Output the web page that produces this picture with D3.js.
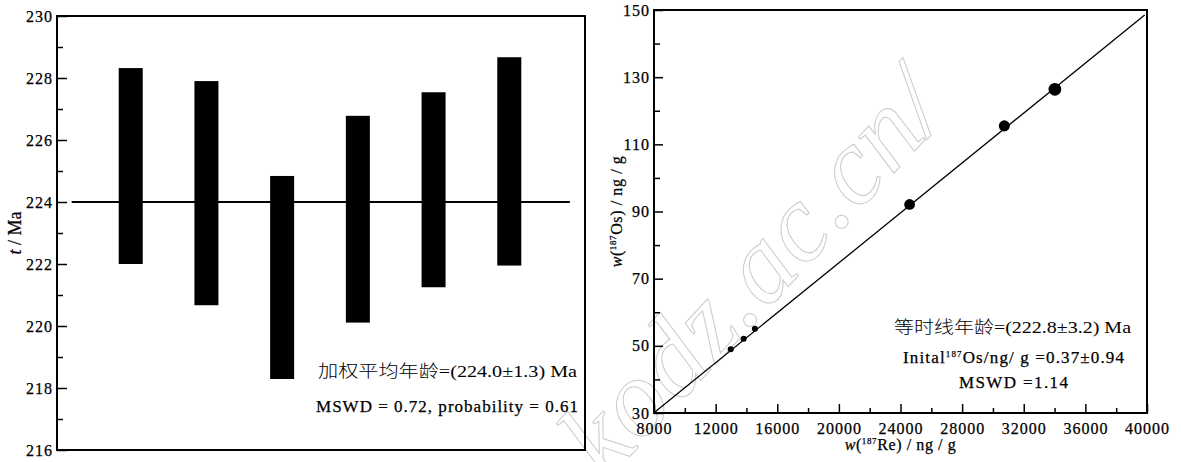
<html>
  <head>
    <meta charset="UTF-8" />
    <script src="https://cdnjs.cloudflare.com/ajax/libs/d3/7.8.5/d3.min.js"></script>
    <style>
      body { margin: 0; background: #fff; }
      text { font-family: "Liberation Serif", "Times New Roman", Times, Tinos, "DejaVu Serif", "Noto Sans CJK SC", serif; fill: #000; stroke: #000; stroke-width: 0.25px; }
      text.wm { fill: none; stroke: #cbcbcb; stroke-width: 1px; }
      text.cjk { stroke-width: 0; font-weight: 300; }
    </style>
  </head>
  <body>
    <svg id="chart" width="1181" height="462"></svg>
    <script>
      var FONT = '"Liberation Serif", "Times New Roman", Times, Tinos, "DejaVu Serif", "Noto Sans CJK SC", serif';

      // left panel: Re-Os model ages (bars = age ± 2s)
      var sampleNo = [1, 2, 3, 4, 5, 6];
      var ageLow = [222.0, 220.67, 218.29, 220.11, 221.25, 221.95];
      var ageHigh = [228.32, 227.9, 224.84, 226.78, 227.54, 228.67];
      var meanAge = 224.0;
      var ageMajor = [216, 218, 220, 222, 224, 226, 228, 230];
      var ageMinor = [217, 219, 221, 223, 225, 227, 229];

      // right panel: isochron
      var re187 = [12980, 13820, 14550, 24590, 30740, 34020];
      var os187 = [49.0, 52.1, 55.1, 92.1, 115.5, 126.4];
      var osErr = [0.9, 0.9, 0.9, 1.6, 1.65, 1.9];
      var fitRe = [8000, 39850];
      var fitOs = [30.1, 148.5];
      var reMajor = [8000, 12000, 16000, 20000, 24000, 28000, 32000, 36000, 40000];
      var reMinor = [10000, 14000, 18000, 22000, 26000, 30000, 34000, 38000];
      var osMajor = [30, 50, 70, 90, 110, 130, 150];
      var osMinor = [40, 60, 80, 100, 120, 140];

      var svg = d3.select("#chart");
      svg.append("rect").attr("width", 1181).attr("height", 462).attr("fill", "#fff");

      // watermark (under everything)
      svg.append("text")
        .attr("class", "wm")
        .attr("transform", "translate(606,482) rotate(-47)")
        .style("font-size", "110px")
        .style("font-style", "italic")
        .style("letter-spacing", "1px")
        .text("kodz.ac.cn/");

      // ---------- left panel ----------
      var L = { x0: 57, x1: 585, y0: 16, y1: 450 };
      var xL = d3.scaleLinear().domain([0, 7]).range([55, 585]);
      var yL = d3.scaleLinear().domain([216, 230]).range([L.y1, L.y0]);

      var gL = svg.append("g");

      gL.selectAll(".bar")
        .data(sampleNo)
        .enter()
        .append("rect")
        .attr("class", "bar")
        .attr("x", (d) => xL(d) - 12)
        .attr("width", 24)
        .attr("y", (d, i) => yL(ageHigh[i]))
        .attr("height", (d, i) => yL(ageLow[i]) - yL(ageHigh[i]))
        .attr("fill", "#000");

      gL.append("line")
        .attr("x1", xL(0.22))
        .attr("x2", xL(6.8))
        .attr("y1", yL(meanAge))
        .attr("y2", yL(meanAge))
        .attr("stroke", "#000")
        .attr("stroke-width", 2);

      var axL = gL.append("g").attr("transform", `translate(${L.x0},0)`)
        .call(d3.axisLeft(yL).tickValues(ageMajor).tickSize(-10).tickPadding(4).tickFormat(d3.format("d")));
      var axLm = gL.append("g").attr("transform", `translate(${L.x0},0)`)
        .call(d3.axisLeft(yL).tickValues(ageMinor).tickSize(-6).tickFormat(""));
      [axL, axLm].forEach((a) => {
        a.select(".domain").remove();
        a.selectAll("line").attr("stroke", "#000").attr("stroke-width", 1.5);
      });
      axL.selectAll("text").style("font-size", "16px").style("font-family", FONT).style("letter-spacing", "1px");

      gL.append("rect")
        .attr("x", L.x0).attr("y", L.y0)
        .attr("width", L.x1 - L.x0).attr("height", L.y1 - L.y0)
        .attr("fill", "none").attr("stroke", "#000").attr("stroke-width", 2);

      var tLab = gL.append("text")
        .attr("transform", `translate(21,${(L.y0 + L.y1) / 2}) rotate(-90)`)
        .attr("text-anchor", "middle")
        .style("font-size", "18px");
      tLab.append("tspan").style("font-style", "italic").text("t");
      tLab.append("tspan").text(" / Ma");

      gL.append("text").attr("x", 318).attr("y", 377)
        .attr("class", "cjk")
        .attr("textLength", 259).attr("lengthAdjust", "spacingAndGlyphs")
        .style("font-size", "17px")
        .text("加权平均年龄=(224.0±1.3) Ma");
      gL.append("text").attr("x", 316).attr("y", 411.5)
        .attr("textLength", 262).attr("lengthAdjust", "spacing")
        .style("font-size", "17px")
        .text("MSWD = 0.72, probability = 0.61");

      // ---------- right panel ----------
      var R = { x0: 654, x1: 1147, y0: 10, y1: 413 };
      var xR = d3.scaleLinear().domain([8000, 40000]).range([R.x0, R.x1]);
      var yR = d3.scaleLinear().domain([30, 150]).range([R.y1, R.y0]);

      var gR = svg.append("g");

      gR.append("line")
        .attr("x1", xR(fitRe[0])).attr("y1", yR(fitOs[0]))
        .attr("x2", xR(fitRe[1])).attr("y2", yR(fitOs[1]))
        .attr("stroke", "#000").attr("stroke-width", 1.3);

      gR.selectAll(".dot")
        .data(re187)
        .enter()
        .append("circle")
        .attr("class", "dot")
        .attr("cx", (d) => xR(d))
        .attr("cy", (d, i) => yR(os187[i]))
        .attr("r", (d, i) => yR(0) - yR(osErr[i]))
        .attr("fill", "#000");

      var axR = gR.append("g").attr("transform", `translate(${R.x0},0)`)
        .call(d3.axisLeft(yR).tickValues(osMajor).tickSize(-9).tickPadding(4).tickFormat(d3.format("d")));
      var axRm = gR.append("g").attr("transform", `translate(${R.x0},0)`)
        .call(d3.axisLeft(yR).tickValues(osMinor).tickSize(-6).tickFormat(""));
      var axB = gR.append("g").attr("transform", `translate(0,${R.y1})`)
        .call(d3.axisBottom(xR).tickValues(reMajor).tickSize(-9).tickPadding(10).tickFormat(d3.format("d")));
      var axBm = gR.append("g").attr("transform", `translate(0,${R.y1})`)
        .call(d3.axisBottom(xR).tickValues(reMinor).tickSize(-5).tickFormat(""));
      [axR, axRm, axB, axBm].forEach((a) => {
        a.select(".domain").remove();
        a.selectAll("line").attr("stroke", "#000").attr("stroke-width", 1.5);
      });
      [axR, axB].forEach((a) =>
        a.selectAll("text").style("font-size", "16px").style("font-family", FONT).style("letter-spacing", "1px")
      );

      gR.append("rect")
        .attr("x", R.x0).attr("y", R.y0)
        .attr("width", R.x1 - R.x0).attr("height", R.y1 - R.y0)
        .attr("fill", "none").attr("stroke", "#000").attr("stroke-width", 2);

      function wLabel(sel, el) {
        sel.append("tspan").style("font-style", "italic").text("w");
        sel.append("tspan").text("(");
        sel.append("tspan").attr("dy", -6).style("font-size", "9px").text("187");
        sel.append("tspan").attr("dy", 6).text(el + ") / ng / g");
      }
      var yRLab = gR.append("text")
        .attr("transform", `translate(622,${(R.y0 + R.y1) / 2}) rotate(-90)`)
        .attr("text-anchor", "middle")
        .style("font-size", "16px")
        .style("letter-spacing", "0.6px");
      wLabel(yRLab, "Os");
      var xRLab = gR.append("text")
        .attr("x", (R.x0 + R.x1) / 2).attr("y", 450)
        .attr("text-anchor", "middle")
        .style("font-size", "16px")
        .style("letter-spacing", "0.6px");
      wLabel(xRLab, "Re");

      gR.append("text").attr("x", 894).attr("y", 333)
        .attr("class", "cjk")
        .attr("textLength", 237).attr("lengthAdjust", "spacingAndGlyphs")
        .style("font-size", "17px")
        .text("等时线年龄=(222.8±3.2) Ma");
      var ini = gR.append("text").attr("x", 903).attr("y", 362.5)
        .attr("textLength", 221).attr("lengthAdjust", "spacing")
        .style("font-size", "17px");
      ini.append("tspan").text("Inital");
      ini.append("tspan").attr("dy", -6).style("font-size", "9px").text("187");
      ini.append("tspan").attr("dy", 6).text("Os/ng/ g =0.37±0.94");
      gR.append("text").attr("x", 959).attr("y", 388)
        .attr("textLength", 109).attr("lengthAdjust", "spacing")
        .style("font-size", "17px")
        .text("MSWD =1.14");
    </script>
  </body>
</html>
